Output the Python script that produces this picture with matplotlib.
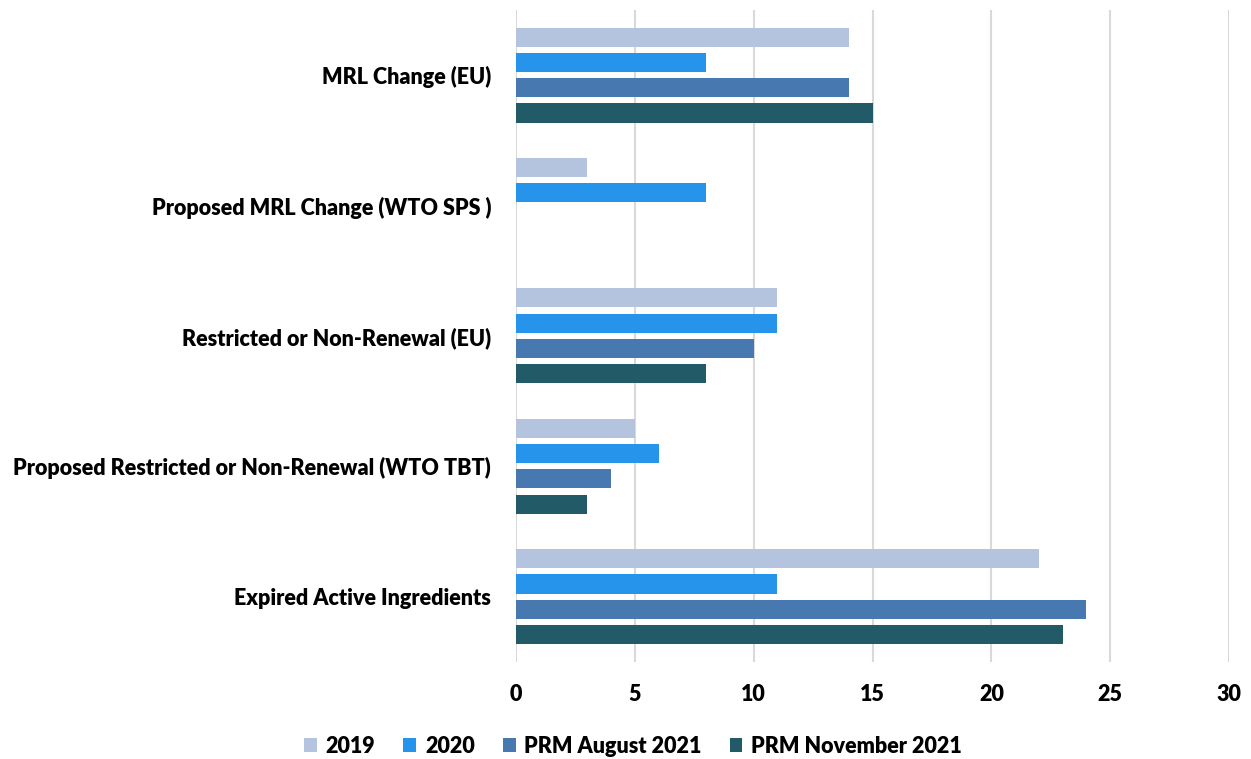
import numpy as np
import matplotlib
matplotlib.use("Agg")
import matplotlib.pyplot as plt
from matplotlib.patches import Patch

plt.rcParams['font.family'] = ['Lato', 'DejaVu Sans']
plt.rcParams['font.weight'] = 'heavy'

categories = ["MRL Change (EU)",
              "Proposed MRL Change (WTO SPS )",
              "Restricted or Non-Renewal (EU)",
              "Proposed Restricted or Non-Renewal (WTO TBT)",
              "Expired Active Ingredients"]
series = ["2019", "2020", "PRM August 2021", "PRM November 2021"]
v2019 = [14, 3, 11, 5, 22]
v2020 = [8, 8, 11, 6, 11]
vaug = [14, 0, 10, 4, 24]
vnov = [15, 0, 8, 3, 23]
values = [v2019, v2020, vaug, vnov]
colors = ["#B4C3DE", "#2594EA", "#4878B0", "#225A68"]

fig = plt.figure(figsize=(12.51, 7.59), dpi=100)
ax = fig.add_axes([0.4125, 0.128, 0.57, 0.859])

y = np.arange(len(categories))
pitch = 0.194
h = 0.146
for i, (vals, c) in enumerate(zip(values, colors)):
    off = (i - 1.5) * pitch
    ax.barh(y + off, vals, height=h, color=c, linewidth=0, zorder=3)

ax.set_ylim(len(categories) - 0.5, -0.5)
ax.set_xlim(0, 30)
ax.set_xticks(range(0, 31, 5))
ax.set_yticks(y)
ax.set_yticklabels(categories, fontsize=15.5)
ax.tick_params(axis='x', labelsize=15.5, length=0, pad=16)
ax.tick_params(axis='y', length=0, pad=18)
ax.grid(axis='x', color="#D9D9D9", linewidth=1.5, zorder=0)
for s in ax.spines.values():
    s.set_visible(False)

handles = [Patch(facecolor=c, edgecolor='none') for c in colors]
fig.legend(handles, series, loc='center', bbox_to_anchor=(0.506, 0.017),
           ncol=4, frameon=False, fontsize=15.5, handlelength=0.6, handleheight=0.6,
           handletextpad=0.4, columnspacing=1.3)

fig.savefig("out.png", dpi=100)
